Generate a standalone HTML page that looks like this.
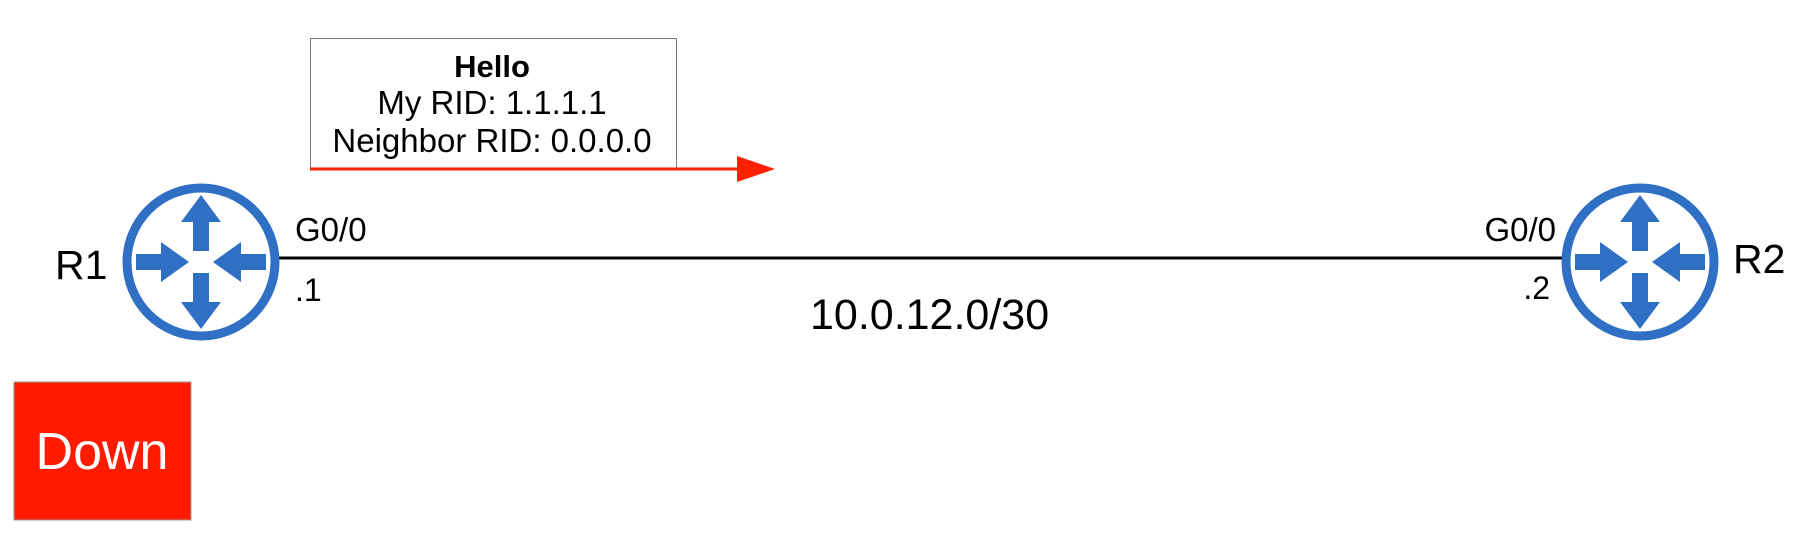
<!DOCTYPE html>
<html><head><meta charset="utf-8"><style>
html,body{margin:0;padding:0;background:#fff;}
svg{display:block;font-family:"Liberation Sans",Arial,sans-serif;}
</style></head><body>
<svg width="1816" height="539" viewBox="0 0 1816 539" xmlns="http://www.w3.org/2000/svg">
<defs>
<g id="rt">
<circle cx="0" cy="0" r="74" fill="#fff" stroke="#2f6fc4" stroke-width="9"/>
<g fill="#2f6fc4">
<polygon points="0,-67 -20,-40 -8,-40 -8,-11 8,-11 8,-40 20,-40"/>
<polygon points="0,67 -20,40 -8,40 -8,11 8,11 8,40 20,40"/>
<polygon points="-12,0 -40,-20 -40,-8 -65,-8 -65,8 -40,8 -40,20"/>
<polygon points="12,0 40,-20 40,-8 65,-8 65,8 40,8 40,20"/>
</g>
</g>
</defs>
<line x1="279" y1="258" x2="1563" y2="258" stroke="#000" stroke-width="3"/>
<use href="#rt" x="201" y="262"/>
<use href="#rt" x="1640" y="262"/>
<rect x="310.5" y="38.5" width="366" height="130" fill="#fff" stroke="#777" stroke-width="1"/>
<text x="492" y="77" font-size="31" font-weight="bold" text-anchor="middle">Hello</text>
<text x="492" y="114" font-size="33" text-anchor="middle">My RID: 1.1.1.1</text>
<text x="492" y="152" font-size="33" text-anchor="middle">Neighbor RID: 0.0.0.0</text>
<line x1="310" y1="169" x2="742" y2="169" stroke="#ff2200" stroke-width="3"/>
<polygon points="737,156 775,169 737,182" fill="#ff2200"/>
<text x="55" y="279" font-size="41">R1</text>
<text x="1733" y="273" font-size="41">R2</text>
<text x="295" y="241" font-size="33">G0/0</text>
<text x="295" y="301" font-size="32">.1</text>
<text x="1556" y="241" font-size="33" text-anchor="end">G0/0</text>
<text x="1550" y="299" font-size="32" text-anchor="end">.2</text>
<text x="810" y="329" font-size="43">10.0.12.0/30</text>
<rect x="14" y="382" width="177" height="138" fill="#ff1a00" stroke="#999" stroke-width="1"/>
<text x="102" y="469" font-size="52" fill="#fff" text-anchor="middle">Down</text>
</svg>
</body></html>
